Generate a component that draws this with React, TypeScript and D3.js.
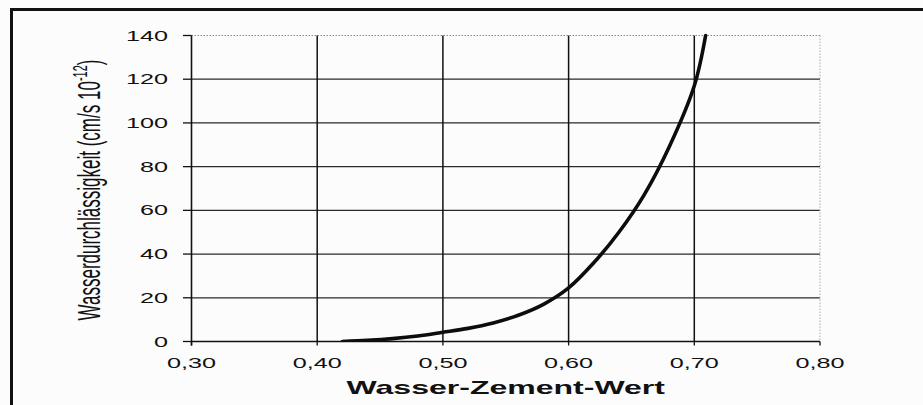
import React from "react";
import * as d3 from "d3";

// w/z-Wert vs. Wasserdurchlässigkeit
const wzValues = [0.42, 0.44, 0.46, 0.48, 0.5, 0.52, 0.54, 0.56, 0.58, 0.6, 0.62, 0.64, 0.66, 0.68, 0.7, 0.709];
const permeability = [0, 0.5, 1.3, 2.5, 4.2, 6, 8.5, 12, 17, 24.5, 36, 50, 67, 89, 117, 140];

const xTicks = [0.3, 0.4, 0.5, 0.6, 0.7, 0.8];
const yTicks = [0, 20, 40, 60, 80, 100, 120, 140];

const xTitle = "Wasser-Zement-Wert";
const yTitle = "Wasserdurchlässigkeit (cm/s 10";
const yTitleExp = "-12";

const App = () => {
  const w = 923;
  const h = 405;
  // the scan is stretched sideways, so text gets a horizontal scale too
  const stretch = 1.8;
  const font = "'Liberation Sans', Arial, sans-serif";

  const xScale = d3.scaleLinear().domain([0.3, 0.8]).range([191.5, 820]);
  const yScale = d3.scaleLinear().domain([0, 140]).range([341.5, 35.5]);

  const points = wzValues.map((v, i) => [v, permeability[i]] as [number, number]);
  const line = d3
    .line<[number, number]>()
    .x((d) => xScale(d[0]))
    .y((d) => yScale(d[1]))
    .curve(d3.curveCatmullRom.alpha(0.5));

  const [x0, x1] = xScale.range();
  const [y0, y1] = yScale.range();

  return (
    <svg
      width={w}
      height={h}
      style={{ position: "absolute", left: 0, top: 0, display: "block", background: "#fcfcfc" }}
    >
      {/* frame of the scanned figure */}
      <line x1={11.5} y1={9.5} x2={w} y2={9.5} stroke="#111" strokeWidth={3} />
      <line x1={11.5} y1={8} x2={11.5} y2={h} stroke="#111" strokeWidth={3} />

      <defs>
        <clipPath id="plot">
          <rect x={x0} y={y1 - 2} width={x1 - x0} height={y0 - y1 + 2} />
        </clipPath>
      </defs>

      {/* horizontal grid */}
      {yTicks.filter((t) => t > 0).map((t) => (
        <line
          key={"h" + t}
          x1={x0}
          x2={x1}
          y1={yScale(t)}
          y2={yScale(t)}
          stroke={t === 140 ? "#888" : "#2a2a2a"}
          strokeWidth={t === 140 ? 1 : 1.3}
          strokeDasharray={t === 140 ? "1.5,1.5" : undefined}
        />
      ))}

      {/* vertical grid */}
      {xTicks.filter((t) => t > 0.3).map((t) => (
        <line
          key={"v" + t}
          x1={xScale(t)}
          x2={xScale(t)}
          y1={y1}
          y2={y0}
          stroke={t === 0.8 ? "#aaa" : "#111"}
          strokeWidth={t === 0.8 ? 1 : 1.5}
          strokeDasharray={t === 0.8 ? "1.5,1.5" : undefined}
        />
      ))}

      {/* axes */}
      <line x1={x0} x2={x0} y1={y1} y2={y0 + 4} stroke="#111" strokeWidth={1.6} />
      <line x1={x0} x2={x1} y1={y0} y2={y0} stroke="#111" strokeWidth={1.6} />
      {yTicks.map((t) => (
        <line key={"yt" + t} x1={x0 - 8.5} x2={x0} y1={yScale(t)} y2={yScale(t)} stroke="#111" strokeWidth={1.3} />
      ))}
      {xTicks.map((t) => (
        <line key={"xt" + t} x1={xScale(t)} x2={xScale(t)} y1={y0} y2={y0 + 4} stroke="#111" strokeWidth={1.3} />
      ))}

      {/* tick labels */}
      {yTicks.map((t) => (
        <text
          key={"yl" + t}
          transform={`translate(168, ${yScale(t) + 5}) scale(${stretch}, 1)`}
          textAnchor="end"
          fontFamily={font}
          fontSize={14}
          fill="#111"
        >
          {t}
        </text>
      ))}
      {xTicks.map((t) => (
        <text
          key={"xl" + t}
          transform={`translate(${xScale(t)}, 368) scale(${stretch}, 1)`}
          textAnchor="middle"
          fontFamily={font}
          fontSize={14}
          fill="#111"
        >
          {t.toFixed(2).replace(".", ",")}
        </text>
      ))}

      {/* curve */}
      <path
        d={line(points) || ""}
        fill="none"
        stroke="#0d0d0d"
        strokeWidth={3.6}
        strokeLinecap="round"
        clipPath="url(#plot)"
      />

      {/* axis titles */}
      <text
        transform={`translate(${(x0 + x1) / 2}, 394) scale(1.78, 1)`}
        textAnchor="middle"
        fontFamily={font}
        fontWeight="bold"
        fontSize={18}
        fill="#111"
      >
        {xTitle}
      </text>
      <text
        transform={`translate(100, 190) scale(${stretch}, 1) rotate(-90)`}
        textAnchor="middle"
        fontFamily={font}
        fontSize={17}
        fill="#111"
      >
        {yTitle}
        <tspan fontSize={11} dy={-7}>
          {yTitleExp}
        </tspan>
        <tspan dy={7}>)</tspan>
      </text>
    </svg>
  );
};

export default App;
